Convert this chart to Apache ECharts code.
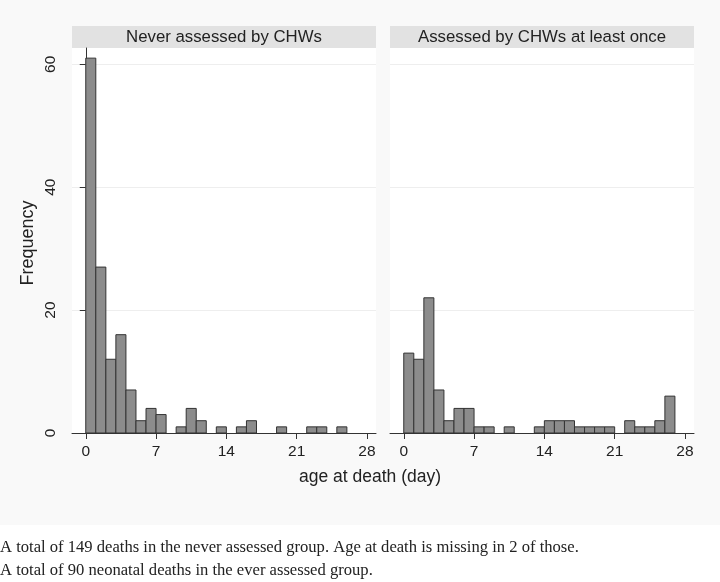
<!DOCTYPE html>
<html>
<head>
<meta charset="utf-8">
<script src="https://cdn.jsdelivr.net/npm/echarts@6/dist/echarts.min.js"></script>
<style>html,body{margin:0;padding:0;background:#fff}#c{width:720px;height:582px}</style>
</head>
<body>
<div id="c"></div>
<script>
// ---- data ----
const binStarts = [0,1,2,3,4,5,6,7,8,9,10,11,12,13,14,15,16,17,18,19,20,21,22,23,24,25,26];
const neverCounts = [61,27,12,16,7,2,4,3,0,1,4,2,0,1,0,1,2,0,0,1,0,0,1,1,0,1,0];
const everCounts  = [13,12,22,7,2,4,4,1,1,0,1,0,0,1,2,2,2,1,1,1,1,0,2,1,1,2,6];
const binWidth = 1;
const xTicks = [0,7,14,21,28];
const yTicks = [0,20,40,60];
const panelTitles = ['Never assessed by CHWs', 'Assessed by CHWs at least once'];
const xTitle = 'age at death (day)';
const yTitle = 'Frequency';
const notes = [
  'A total of 149 deaths in the never assessed group. Age at death is missing in 2 of those.',
  'A total of 90 neonatal deaths in the ever assessed group.'
];

const FONT = '"Liberation Sans", Arial, Helvetica, sans-serif';
const SERIF = '"Liberation Serif", "Times New Roman", serif';
const chart = echarts.init(document.getElementById('c'), null, {renderer: 'canvas'});

function toData(counts) {
  const out = [];
  binStarts.forEach((s, i) => { if (counts[i] > 0) out.push([s, counts[i]]); });
  return out;
}
function renderBar(params, api) {
  const x0 = api.value(0), v = api.value(1);
  const p1 = api.coord([x0, v]);
  const p2 = api.coord([x0 + binWidth, 0]);
  return {
    type: 'rect',
    shape: {x: p1[0], y: p1[1], width: p2[0] - p1[0], height: p2[1] - p1[1]},
    style: {fill: '#8c8c8c', stroke: '#333333', lineWidth: 1}
  };
}

const grids = [
  {left: 72, top: 48, width: 304, height: 385},
  {left: 390, top: 48, width: 304, height: 385}
];

function xAxis(idx) {
  return {
    type: 'value', gridIndex: idx, min: -1.37, max: 28.9,
    axisLine: {show: true, onZero: false, lineStyle: {color: '#333', width: 1}},
    axisTick: {show: true, length: 6, lineStyle: {color: '#333'}, customValues: xTicks},
    axisLabel: {show: true, customValues: xTicks, fontSize: 15.5, color: '#222', fontFamily: FONT, margin: 11},
    splitLine: {show: false}
  };
}
function yAxis(idx, left) {
  return {
    type: 'value', gridIndex: idx, min: 0, max: 62.65,
    axisLine: {show: left, lineStyle: {color: '#333', width: 1}},
    axisTick: {show: left, length: 6, lineStyle: {color: '#333'}, customValues: yTicks},
    axisLabel: {show: left, customValues: yTicks, rotate: 90, fontSize: 15.5, color: '#222', fontFamily: FONT, margin: 13},
    splitLine: {show: true, lineStyle: {color: '#eeeeee', width: 1}}
  };
}

const graphics = [
  {type: 'rect', z: -10, shape: {x: 0, y: 0, width: 720, height: 525}, style: {fill: '#f9f9f9'}},
  {type: 'rect', z: -9, shape: {x: 72, y: 48, width: 304, height: 385}, style: {fill: '#ffffff'}},
  {type: 'rect', z: -9, shape: {x: 390, y: 48, width: 304, height: 385}, style: {fill: '#ffffff'}},
  {type: 'rect', shape: {x: 72, y: 26, width: 304, height: 22}, style: {fill: '#e2e2e2'}},
  {type: 'rect', shape: {x: 390, y: 26, width: 304, height: 22}, style: {fill: '#e2e2e2'}},
  {type: 'text', x: 224, y: 37, style: {text: panelTitles[0], font: '16.8px ' + FONT, fill: '#222', textAlign: 'center', textVerticalAlign: 'middle'}},
  {type: 'text', x: 542, y: 37, style: {text: panelTitles[1], font: '16.8px ' + FONT, fill: '#222', textAlign: 'center', textVerticalAlign: 'middle'}},
  {type: 'text', x: 370, y: 477, style: {text: xTitle, font: '17.5px ' + FONT, fill: '#222', textAlign: 'center', textVerticalAlign: 'middle'}},
  {type: 'text', x: 28, y: 243, rotation: Math.PI / 2, style: {text: yTitle, font: '18px ' + FONT, fill: '#222', textAlign: 'center', textVerticalAlign: 'middle'}},
  {type: 'text', x: 0, y: 548, style: {text: notes[0], font: '16.6px ' + SERIF, fill: '#222', textAlign: 'left', textVerticalAlign: 'middle'}},
  {type: 'text', x: 0, y: 571, style: {text: notes[1], font: '16.6px ' + SERIF, fill: '#222', textAlign: 'left', textVerticalAlign: 'middle'}}
];

chart.setOption({
  backgroundColor: '#ffffff',
  animation: false,
  grid: grids,
  xAxis: [xAxis(0), xAxis(1)],
  yAxis: [yAxis(0, true), yAxis(1, false)],
  graphic: graphics,
  series: [
    {type: 'custom', xAxisIndex: 0, yAxisIndex: 0, renderItem: renderBar, data: toData(neverCounts), clip: false},
    {type: 'custom', xAxisIndex: 1, yAxisIndex: 1, renderItem: renderBar, data: toData(everCounts), clip: false}
  ]
});
</script>
</body>
</html>
